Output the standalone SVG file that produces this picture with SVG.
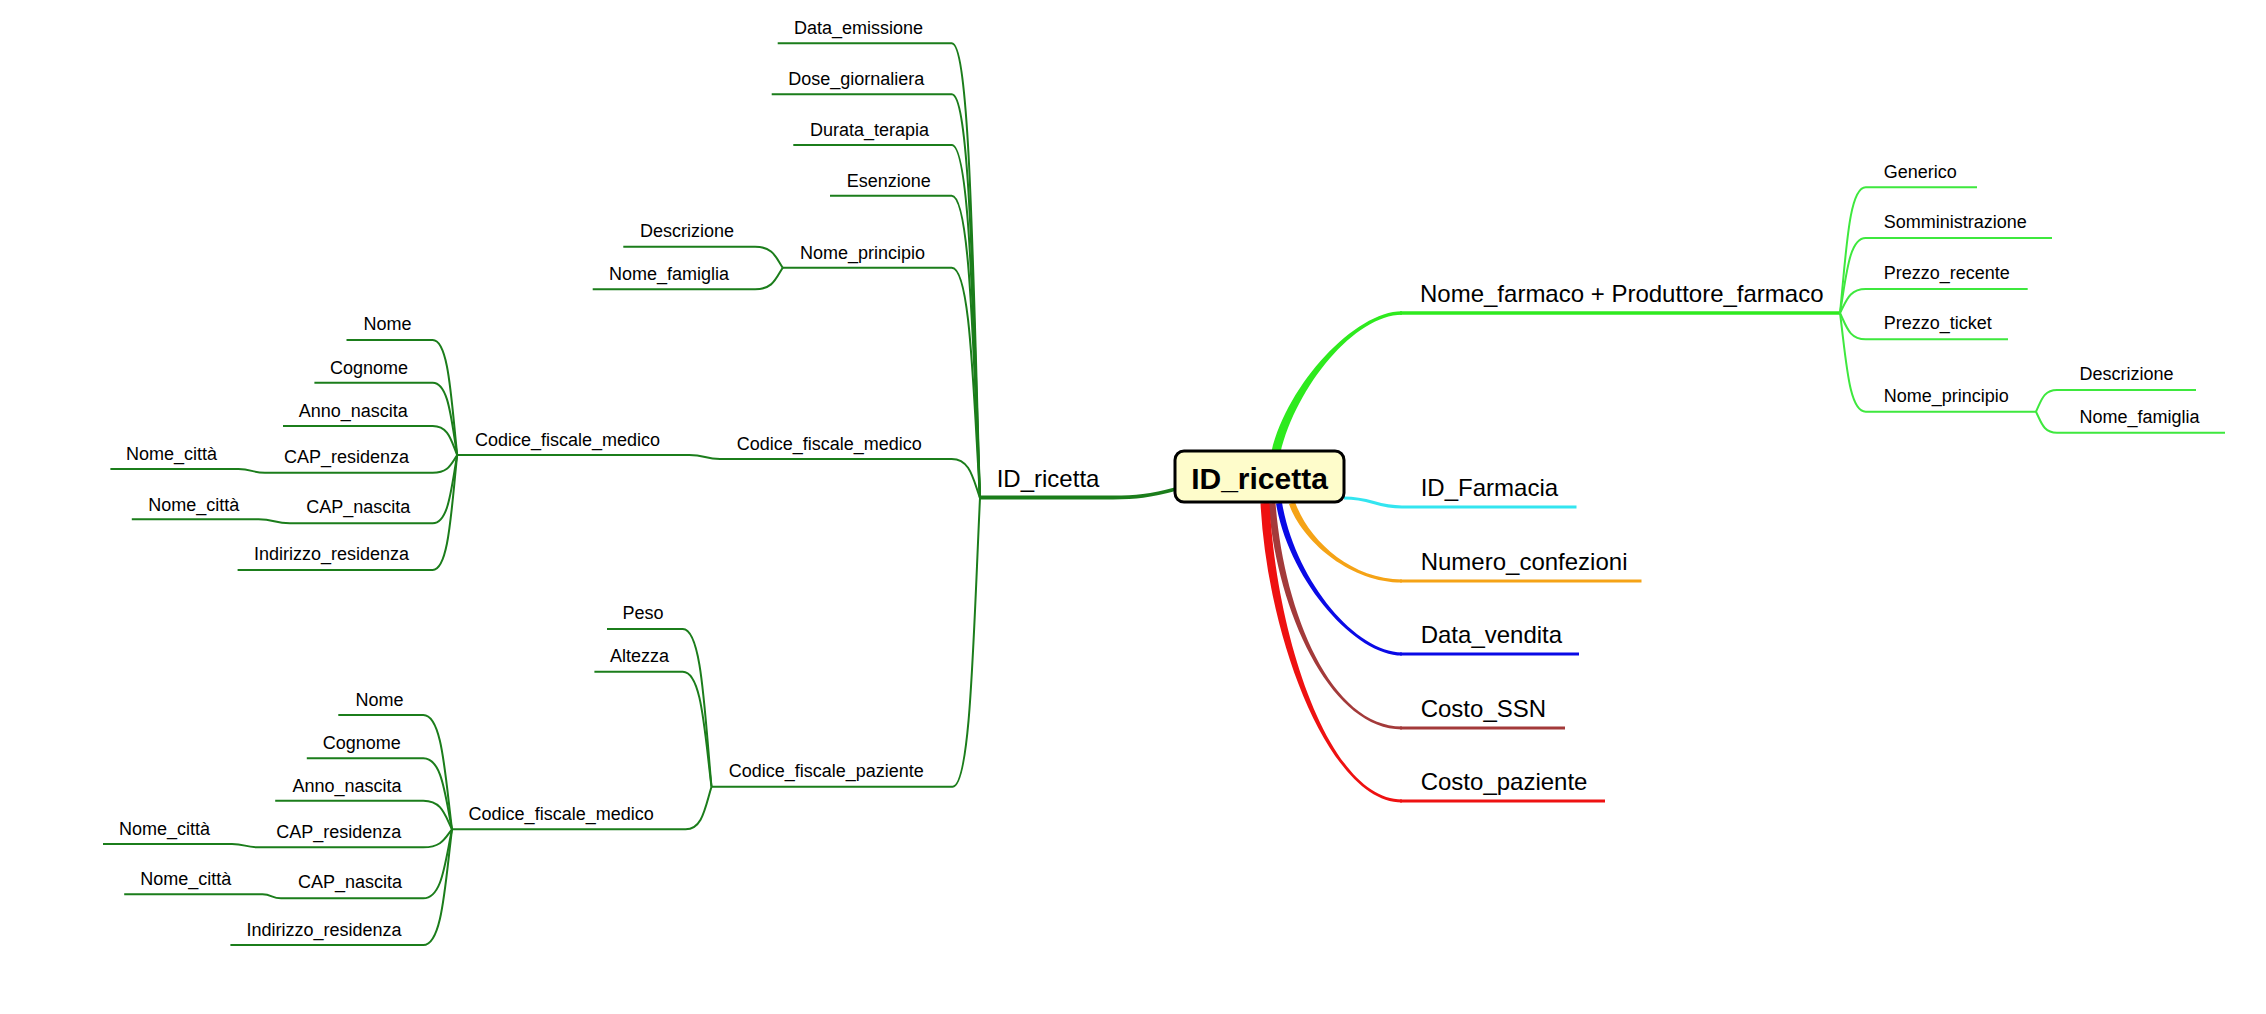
<svg xmlns="http://www.w3.org/2000/svg" width="2266" height="1014" viewBox="0 0 2266 1014">
<style>
text{font-family:"Liberation Sans",Arial,sans-serif;fill:#000}
.s{font-size:18px}
.b{font-size:24px}
.c{font-size:30px;font-weight:bold;text-anchor:middle}
.dg{fill:none;stroke:#1b7d1b;stroke-width:2}
.lg{fill:none;stroke:#3ee83e;stroke-width:2}
</style>
<rect width="2266" height="1014" fill="#fff"/>
<g id="connectors">
<path d="M1280.4,453 C1296.4,386 1355,314.75 1402,314.75 L1402,311.25 C1355,311.25 1287.6,384 1271.6,451 Z" fill="#2eea1e"/>
<path d="M1400,313 H1840" fill="none" stroke="#2eea1e" stroke-width="3.5"/>
<path d="M1344,498 C1372,498 1375,507 1402,507 H1576.5" fill="none" stroke="#33e5f0" stroke-width="3.2"/>
<path d="M1295,501.9 C1308,538.9 1350,579.4 1402,579.4 L1402,582.6 C1350,582.6 1302,541.1 1289,504.1 Z" fill="#f5a316"/>
<path d="M1400,581 H1641.5" fill="none" stroke="#f5a316" stroke-width="3.2"/>
<path d="M1282,502.5 C1295,579.5 1355,652.4 1402,652.4 L1402,655.6 C1355,655.6 1289,580.5 1276,503.5 Z" fill="#0a0ae6"/>
<path d="M1400,654 H1579" fill="none" stroke="#0a0ae6" stroke-width="3.2"/>
<path d="M1275.5,502.7 C1283.5,609.7 1330,726.5 1402,726.5 L1402,729.5 C1330,729.5 1276.5,610.3 1268.5,503.3 Z" fill="#a33a3a"/>
<path d="M1400,728 H1565" fill="none" stroke="#a33a3a" stroke-width="3"/>
<path d="M1269.5,502.8 C1276.5,639.8 1330,799.5 1402,799.5 L1402,802.5 C1330,802.5 1267.5,640.2 1260.5,503.2 Z" fill="#ee1111"/>
<path d="M1400,801 H1605" fill="none" stroke="#ee1111" stroke-width="3"/>
<path class="lg" d="M1840,313 C1846.4,250.15 1849,187.3 1865.7,187.3 H1977"/>
<path class="lg" d="M1840,313 C1846.4,275.5 1849,238 1865.7,238 H2052"/>
<path class="lg" d="M1840,313 C1846.4,301 1849,289 1865.7,289 H2027.7"/>
<path class="lg" d="M1840,313 C1846.4,326.15 1849,339.3 1865.7,339.3 H2008"/>
<path class="lg" d="M1840,313 C1846.4,362.35 1849,411.7 1865.7,411.7 H2036"/>
<path class="lg" d="M2036,411.7 C2041.25,400.85 2043.35,390 2057,390 H2196"/>
<path class="lg" d="M2036,411.7 C2041.25,422.2 2043.35,432.7 2057,432.7 H2225"/>
<path d="M1176,489 C1150,496 1135,497.5 1113,497.5 H980" fill="none" stroke="#1b7d1b" stroke-width="3.8"/>
<path class="dg" d="M980,498 C972.9,270.7 970.1,43.3 951.7,43.3 H777.7"/>
<path class="dg" d="M980,498 C972.9,296.2 970.1,94.3 951.7,94.3 H771.7"/>
<path class="dg" d="M980,498 C972.9,321.5 970.1,145 951.7,145 H793.3"/>
<path class="dg" d="M980,498 C972.9,346.9 970.1,195.7 951.7,195.7 H830"/>
<path class="dg" d="M980,498 C972.9,382.9 970.1,267.7 951.7,267.7 H782.7"/>
<path class="dg" d="M980,498 C972.9,478.5 970.1,459 951.7,459 H720 C705,459 705,455 689.4,455 H457.2"/>
<path class="dg" d="M980,498 C973.2,642.4 970.4,786.7 952.6,786.7 H711.5"/>
<path class="dg" d="M782.7,267.7 C775.8,257.2 773,246.7 755,246.7 H623.3"/>
<path class="dg" d="M782.7,267.7 C775.8,278.5 773,289.3 755,289.3 H592.7"/>
<path class="dg" d="M457.2,455 C451.1,397.5 448.6,340 432.7,340 H346.5"/>
<path class="dg" d="M457.2,455 C451.1,418.9 448.6,382.7 432.7,382.7 H314.4"/>
<path class="dg" d="M457.2,455 C451.1,440.5 448.6,426 432.7,426 H283"/>
<path class="dg" d="M457.2,455 C451.1,463.9 448.6,472.7 432.7,472.7 H265 C251.75,472.7 251.75,469 238.5,469 H110.4"/>
<path class="dg" d="M457.2,455 C451.1,489.2 448.6,523.3 432.7,523.3 H289.8 C274.2,523.3 274.2,519.3 258.6,519.3 H131.8"/>
<path class="dg" d="M457.2,455 C451.1,512.5 448.6,570 432.7,570 H237.6"/>
<path class="dg" d="M711.5,786.7 C704.3,707.9 701.5,629 682.8,629 H607"/>
<path class="dg" d="M711.5,786.7 C704.3,729.2 701.5,671.7 682.8,671.7 H594.4"/>
<path class="dg" d="M711.5,786.7 C705,808 702.4,829.3 685.6,829.3 H452"/>
<path class="dg" d="M452,829.3 C444.8,772.2 442,715 423.3,715 H338.3"/>
<path class="dg" d="M452,829.3 C444.8,793.8 442,758.3 423.3,758.3 H306.8"/>
<path class="dg" d="M452,829.3 C444.8,815 442,800.7 423.3,800.7 H275.2"/>
<path class="dg" d="M452,829.3 C444.8,838.3 442,847.3 423.3,847.3 H258 C245,847.3 245,844 232,844 H103"/>
<path class="dg" d="M452,829.3 C444.8,863.8 442,898.3 423.3,898.3 H281 C271.75,898.3 271.75,894.3 262.5,894.3 H124.2"/>
<path class="dg" d="M452,829.3 C444.8,887.2 442,945 423.3,945 H230.4"/>
</g>
<g id="n-root">
<rect x="1175" y="451" width="169" height="51" rx="9" fill="#fefccb" stroke="#000" stroke-width="3"/>
<text class="c" x="1259.5" y="489">ID_ricetta</text>
</g>
<g id="n-farmaco"><text class="b" x="1420" y="302.3">Nome_farmaco + Produttore_farmaco</text></g>
<g id="n-farmacia"><text class="b" x="1420.7" y="496">ID_Farmacia</text></g>
<g id="n-confezioni"><text class="b" x="1420.7" y="570">Numero_confezioni</text></g>
<g id="n-vendita"><text class="b" x="1420.7" y="643">Data_vendita</text></g>
<g id="n-ssn"><text class="b" x="1420.7" y="717">Costo_SSN</text></g>
<g id="n-paziente-costo"><text class="b" x="1420.7" y="790">Costo_paziente</text></g>
<g id="n-generico"><text class="s" x="1883.8" y="177.7">Generico</text></g>
<g id="n-somm"><text class="s" x="1883.8" y="228.3">Somministrazione</text></g>
<g id="n-prezzo-rec"><text class="s" x="1883.8" y="279">Prezzo_recente</text></g>
<g id="n-prezzo-tic"><text class="s" x="1883.8" y="329">Prezzo_ticket</text></g>
<g id="n-principio-r"><text class="s" x="1883.8" y="401.7">Nome_principio</text></g>
<g id="n-descr-r"><text class="s" x="2079.5" y="380">Descrizione</text></g>
<g id="n-famiglia-r"><text class="s" x="2079.5" y="423.3">Nome_famiglia</text></g>
<g id="n-idricetta-l"><text class="b" x="996.7" y="487.3">ID_ricetta</text></g>
<g id="n-emissione"><text class="s" x="794" y="34.3">Data_emissione</text></g>
<g id="n-dose"><text class="s" x="788.3" y="85">Dose_giornaliera</text></g>
<g id="n-durata"><text class="s" x="810" y="135.7">Durata_terapia</text></g>
<g id="n-esenzione"><text class="s" x="846.7" y="186.7">Esenzione</text></g>
<g id="n-principio-l"><text class="s" x="800" y="259">Nome_principio</text></g>
<g id="n-descr-l"><text class="s" x="640" y="236.7">Descrizione</text></g>
<g id="n-famiglia-l"><text class="s" x="609" y="280">Nome_famiglia</text></g>
<g id="n-cfm-outer"><text class="s" x="736.7" y="450">Codice_fiscale_medico</text></g>
<g id="n-cfm-inner"><text class="s" x="475" y="445.7">Codice_fiscale_medico</text></g>
<g id="n-nome1"><text class="s" x="363.5" y="330">Nome</text></g>
<g id="n-cognome1"><text class="s" x="330" y="374">Cognome</text></g>
<g id="n-anno1"><text class="s" x="298.8" y="416.7">Anno_nascita</text></g>
<g id="n-capres1"><text class="s" x="284" y="463.3">CAP_residenza</text></g>
<g id="n-citta1a"><text class="s" x="126" y="460">Nome_città</text></g>
<g id="n-capnas1"><text class="s" x="306.3" y="513.3">CAP_nascita</text></g>
<g id="n-citta1b"><text class="s" x="148.3" y="510.7">Nome_città</text></g>
<g id="n-indirizzo1"><text class="s" x="254" y="560">Indirizzo_residenza</text></g>
<g id="n-cfp"><text class="s" x="728.7" y="777.3">Codice_fiscale_paziente</text></g>
<g id="n-peso"><text class="s" x="622.5" y="619.3">Peso</text></g>
<g id="n-altezza"><text class="s" x="610" y="661.7">Altezza</text></g>
<g id="n-cfm-lower"><text class="s" x="468.6" y="820">Codice_fiscale_medico</text></g>
<g id="n-nome2"><text class="s" x="355.5" y="705.7">Nome</text></g>
<g id="n-cognome2"><text class="s" x="322.8" y="749.3">Cognome</text></g>
<g id="n-anno2"><text class="s" x="292.4" y="791.7">Anno_nascita</text></g>
<g id="n-capres2"><text class="s" x="276.3" y="837.7">CAP_residenza</text></g>
<g id="n-citta2a"><text class="s" x="119" y="835">Nome_città</text></g>
<g id="n-capnas2"><text class="s" x="298" y="888.3">CAP_nascita</text></g>
<g id="n-citta2b"><text class="s" x="140.3" y="885">Nome_città</text></g>
<g id="n-indirizzo2"><text class="s" x="246.5" y="936">Indirizzo_residenza</text></g>
</svg>
